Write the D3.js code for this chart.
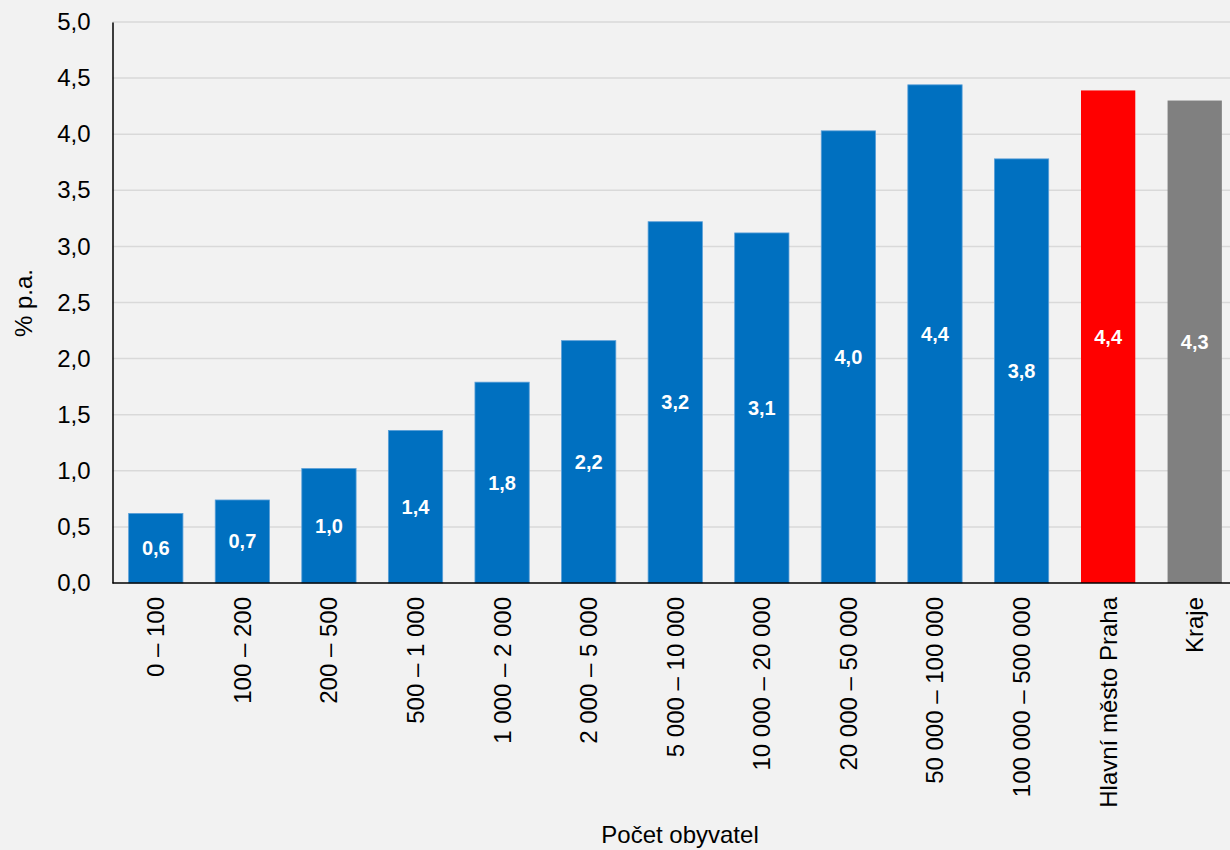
<!DOCTYPE html>
<html>
<head>
<meta charset="utf-8">
<script src="https://cdn.jsdelivr.net/npm/d3@7"></script>
<style>
  html, body { margin: 0; padding: 0; background: #f2f2f2; }
  svg { display: block; font-family: "Liberation Sans", Arial, sans-serif; }
</style>
</head>
<body>
<svg id="chart" width="1230" height="850"></svg>
<script>
// Size categories of municipalities, plus Prague and regions
const categories = [
  "0 – 100", "100 – 200", "200 – 500", "500 – 1 000", "1 000 – 2 000",
  "2 000 – 5 000", "5 000 – 10 000", "10 000 – 20 000", "20 000 – 50 000",
  "50 000 – 100 000", "100 000 – 500 000", "Hlavní město Praha", "Kraje"
];
const values = [0.62, 0.74, 1.02, 1.36, 1.79, 2.16, 3.22, 3.12, 4.03, 4.44, 3.78, 4.39, 4.30];
const barColors = [
  "#0070c0", "#0070c0", "#0070c0", "#0070c0", "#0070c0", "#0070c0", "#0070c0",
  "#0070c0", "#0070c0", "#0070c0", "#0070c0", "#ff0000", "#808080"
];
const yTicks = [0, 0.5, 1, 1.5, 2, 2.5, 3, 3.5, 4, 4.5, 5];

const svg = d3.select("#chart");
const plotLeft = 112.5, plotTop = 22, plotBottom = 583, plotRight = 1238;

const fmt = v => v.toFixed(1).replace(".", ",");

const x = d3.scaleBand()
  .domain(categories)
  .range([plotLeft, plotRight])
  .paddingInner(0.373)
  .paddingOuter(0.1865);

const y = d3.scaleLinear().domain([0, 5]).range([plotBottom, plotTop]);

// horizontal gridlines
svg.append("g")
  .selectAll("line")
  .data(yTicks.filter(t => t > 0))
  .join("line")
  .attr("x1", plotLeft)
  .attr("x2", 1230)
  .attr("y1", d => y(d))
  .attr("y2", d => y(d))
  .attr("stroke", "#d9d9d9")
  .attr("stroke-width", 1.5);

// bars
svg.append("g")
  .selectAll("rect")
  .data(values)
  .join("rect")
  .attr("x", (d, i) => x(categories[i]))
  .attr("width", x.bandwidth())
  .attr("y", d => y(d))
  .attr("height", d => y(0) - y(d))
  .attr("fill", (d, i) => barColors[i])
  .attr("stroke", (d, i) => barColors[i] === "#0070c0" ? "#5a9fd8" : "none")
  .attr("stroke-width", 0.8);

// value labels in the middle of each bar
svg.append("g")
  .selectAll("text")
  .data(values)
  .join("text")
  .attr("x", (d, i) => x(categories[i]) + x.bandwidth() / 2)
  .attr("y", d => (y(d) + y(0)) / 2)
  .attr("text-anchor", "middle")
  .attr("dominant-baseline", "central")
  .attr("fill", "#ffffff")
  .attr("font-weight", "bold")
  .attr("font-size", 20)
  .text(d => fmt(d));

// y axis
const yAxis = d3.axisLeft(y)
  .tickValues(yTicks)
  .tickFormat(fmt)
  .tickSize(0)
  .tickPadding(22);
const gy = svg.append("g")
  .attr("transform", `translate(${plotLeft},0)`)
  .call(yAxis);
gy.select(".domain").attr("stroke", "#000").attr("stroke-width", 1.5);
gy.selectAll("text")
  .attr("font-size", 24)
  .attr("fill", "#000")
  .attr("font-family", "Liberation Sans, Arial, sans-serif");

// x axis
const xAxis = d3.axisBottom(x).tickSize(0).tickSizeOuter(0);
const gx = svg.append("g")
  .attr("transform", `translate(0,${plotBottom})`)
  .call(xAxis);
gx.select(".domain").remove();
gx.append("line")
  .attr("x1", plotLeft).attr("x2", 1230)
  .attr("stroke", "#000").attr("stroke-width", 1.5);
gx.selectAll(".tick text")
  .attr("font-size", 24)
  .attr("fill", "#000")
  .attr("font-family", "Liberation Sans, Arial, sans-serif")
  .attr("text-anchor", "end")
  .attr("dominant-baseline", "central")
  .attr("dy", null)
  .attr("y", 0)
  .attr("transform", "translate(0,14) rotate(-90)");

// axis titles
svg.append("text")
  .attr("transform", "translate(23,303) rotate(-90)")
  .attr("text-anchor", "middle")
  .attr("dominant-baseline", "central")
  .attr("font-size", 24)
  .attr("fill", "#000")
  .text("% p.a.");

svg.append("text")
  .attr("x", 680)
  .attr("y", 843)
  .attr("text-anchor", "middle")
  .attr("font-size", 24)
  .attr("fill", "#000")
  .text("Počet obyvatel");
</script>
</body>
</html>
